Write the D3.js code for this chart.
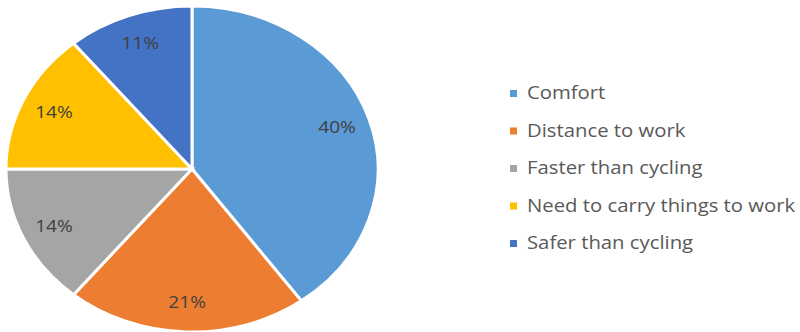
<!DOCTYPE html>
<html lang="en">
<head>
<meta charset="UTF-8">
<title>Reasons pie</title>
<script src="https://cdn.jsdelivr.net/npm/d3@7"></script>
<style>
  body { margin: 0; background: #fff; }
  text { font-family: "Open Sans", sans-serif; }
</style>
</head>
<body>
<script>
    // data
    var categories = ["Comfort", "Distance to work", "Faster than cycling", "Need to carry things to work", "Safer than cycling"];
    var shares = [40, 21, 14, 14, 11];
    var colours = ["#5B9BD5", "#ED7D31", "#A5A5A5", "#FFC000", "#4472C4"];

    var width = 800, height = 332;
    var svg = d3.select("body").append("svg")
                .attr("width", width)
                .attr("height", height);

    // the picture is stretched sideways, so draw a unit pie and stretch it too
    var cx = 192, cy = 169, rx = 186, ry = 163;
    var stretch = 1.16;   // same sideways stretch for the text

    var pie = d3.pie().sort(null).value(function (d) { return d; });
    var arcs = pie(shares);
    var arc = d3.arc().innerRadius(0).outerRadius(1);

    var g = svg.append("g")
               .attr("transform", "translate(" + cx + "," + cy + ") scale(" + rx + "," + ry + ")");

    g.selectAll("path")
        .data(arcs)
        .enter()
        .append("path")
        .attr("d", arc)
        .attr("fill", function (d, i) { return colours[i]; })
        .attr("stroke", "#fff")
        .attr("stroke-width", 3)
        .attr("vector-effect", "non-scaling-stroke");

    // percentage labels
    var labelArc = d3.arc().innerRadius(0.82).outerRadius(0.82);
    svg.selectAll(".lbl")
        .data(arcs)
        .enter()
        .append("text")
        .attr("class", "lbl")
        .attr("transform", function (d) {
            var c = labelArc.centroid(d);
            return "translate(" + (cx + c[0] * rx) + "," + (cy + c[1] * ry) + ") scale(" + stretch + ",1)";
        })
        .attr("dy", "0.35em")
        .attr("text-anchor", "middle")
        .attr("font-size", "16.5px")
        .attr("fill", "#404040")
        .text(function (d) { return d.data + "%"; });

    // legend
    var legendY = d3.scalePoint().domain(d3.range(categories.length)).range([93, 243]);
    var legend = svg.selectAll(".leg")
        .data(categories)
        .enter()
        .append("g")
        .attr("class", "leg")
        .attr("transform", function (d, i) { return "translate(510," + legendY(i) + ")"; });

    legend.append("rect")
        .attr("x", 0).attr("y", -3)
        .attr("width", 7).attr("height", 7)
        .attr("fill", function (d, i) { return colours[i]; });

    legend.append("text")
        .attr("transform", "translate(17,0) scale(" + stretch + ",1)")
        .attr("dy", "0.35em")
        .attr("font-size", "17.5px")
        .attr("fill", "#595959")
        .text(function (d) { return d; });
</script>
</body>
</html>
